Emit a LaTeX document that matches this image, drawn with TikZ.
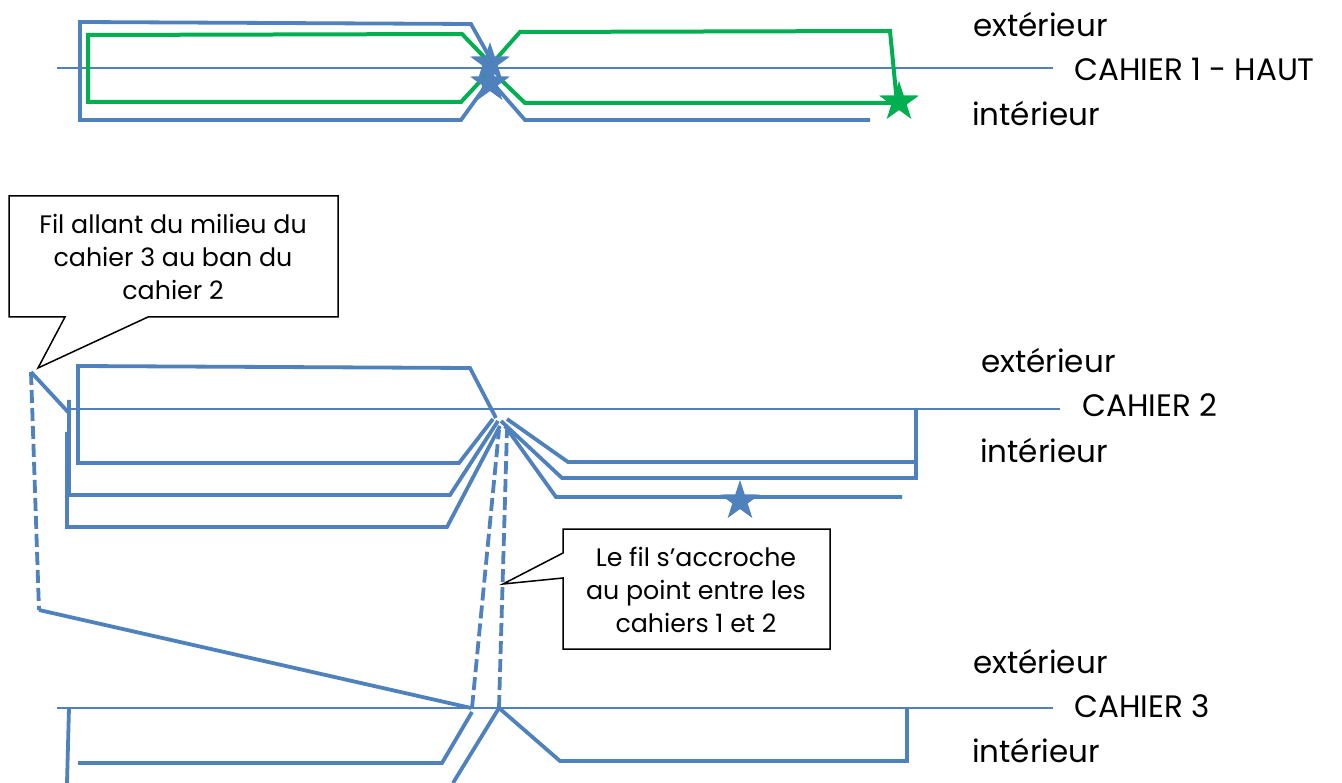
\documentclass[tikz,border=0pt]{standalone}
\usepackage{fontspec}
\setmainfont{Poppins}
\usetikzlibrary{shapes.geometric}

\begin{document}
\begin{tikzpicture}[x=1pt, y=-1pt, thread/.style = {draw=fil, line width=3.8pt, line join=miter},
    threadgreen/.style = {draw=filvert, line width=4pt},
    hidden/.style = {thread, dash pattern=on 13pt off 5pt},
    axis/.style = {draw=fil, line width=1.7pt},
    side/.style = {anchor=base west, inner sep=0pt, font=\fontsize{31}{36}\selectfont},
    callout/.style = {align=center, inner sep=0pt, font=\fontsize{25.3}{33}\selectfont},
    bubble/.style = {draw=black, line width=1.5pt, fill=white},
    knot/.style = {star, star points=5, star point ratio=2.6, minimum size=42pt, inner sep=0pt, fill=#1}]
    \definecolor{fil}{HTML}{4F81BD}
    \definecolor{filvert}{HTML}{00B050}
    \useasboundingbox (0,0) rectangle (1342,783);

    % cahier 1
    \draw[axis] (57,68) -- (1053,68);
    \draw[thread] (490,58) -- (471,24) -- (80,22) -- (80,120) -- (461,120) -- (490,80);
    \draw[thread] (870,120) -- (525,120) -- (490,80);
    \draw[threadgreen] (487,60) -- (462,34) -- (88,35) -- (88,102) -- (461,102) -- (487,74);
    \draw[threadgreen] (497,58) -- (520,32) -- (890,31) -- (897,103);
    \draw[threadgreen] (497,76) -- (525,103) -- (899,103);
    \node[knot=fil] (k1) at (490,63) {};
    \node[knot=fil] (k2) at (490,83) {};
    \node[knot=filvert] (k3) at (899,102) {};
    \node[side] (ext1) at (973,37) {extérieur};
    \node[side] (nom1) at (1074,81) {CAHIER 1 - HAUT};
    \node[side] (int1) at (972,126) {intérieur};

    % cahier 2
    \draw[axis] (68,409) -- (1060,409);
    \draw[thread] (496,418) -- (470,368) -- (78,366) -- (78,463) -- (459,463) -- (493,419);
    \draw[thread] (507,419) -- (568,462) -- (916,462) -- (916,409);
    \draw[thread] (501,421) -- (562,478) -- (916,478) -- (916,462);
    \draw[thread] (505,426) -- (556,497) -- (902,497);
    \draw[thread] (498,421) -- (450,495) -- (69,495) -- (69,400);
    \draw[thread] (68,412) -- (31,372);
    \draw[thread] (67,432) -- (67,527) -- (447,527) -- (500,426);
    \draw[hidden] (31,372) -- (39,610);
    \draw[thread] (39,610) -- (471,708);
    \draw[hidden] (472,708) -- (499,430);
    \draw[hidden] (499,708) -- (507,430);
    \node[knot=fil] (k4) at (740,501) {};
    \node[side] (ext2) at (981,373) {extérieur};
    \node[side] (nom2) at (1082,417) {CAHIER 2};
    \node[side] (int2) at (980,463) {intérieur};

    % cahier 3
    \draw[axis] (57,708) -- (1053,708);
    \draw[thread] (69,708) -- (67,783);
    \draw[thread] (78,763) -- (442,763) -- (472,712);
    \draw[thread] (453,783) -- (499,708) -- (560,761) -- (907,761) -- (907,708);
    \node[side] (ext3) at (973,673) {extérieur};
    \node[side] (nom3) at (1074,717) {CAHIER 3};
    \node[side] (int3) at (972,762) {intérieur};

    % bulles
    \draw[bubble] (9,196) -- (338,196) -- (338,317) -- (148,317) -- (38,368) -- (65,317) -- (9,317) -- cycle;
    \node[callout] (note1) at (173,257) {Fil allant du milieu du\\cahier 3 au ban du\\cahier 2};
    \draw[bubble] (563,529) -- (830,529) -- (830,649) -- (563,649) -- (563,578) -- (503,584) -- (563,553) -- cycle;
    \node[callout] (note2) at (696,590) {Le fil s’accroche\\au point entre les\\cahiers 1 et 2};
\end{tikzpicture}
\end{document}
